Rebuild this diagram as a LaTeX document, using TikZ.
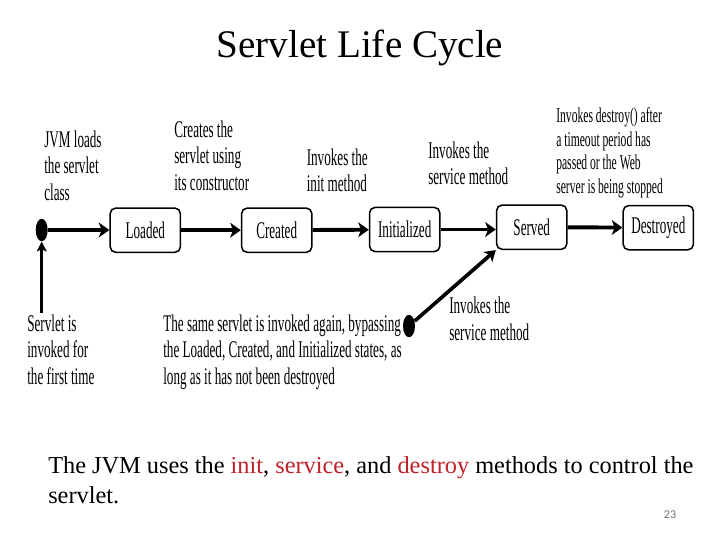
\documentclass[tikz,border=0pt]{standalone}
\usepackage{fontspec}
\setmainfont{Liberation Serif}
\newfontfamily\slimfont[FakeStretch=0.55]{Liberation Serif}
\newfontfamily\pagefont{Carlito}
\usetikzlibrary{arrows.meta,shapes.geometric}
\definecolor{methodred}{RGB}{192,32,40}
\tikzset{
  state/.style={draw, line width=1.1pt, rounded corners=4pt, minimum width=50pt,
    minimum height=31.5pt, inner sep=0pt, font={\slimfont\fontsize{17}{18.8}\selectfont}},
  note/.style={anchor=north west, align=left, inner sep=0pt,
    font={\slimfont\fontsize{17}{18.8}\selectfont}},
  smallnote/.style={note, font={\slimfont\fontsize{15}{17}\selectfont}},
  blob/.style={ellipse, fill=black, draw=none, minimum width=8.5pt, minimum height=16pt, inner sep=0pt},
  flow/.style={line width=2.8pt, -{Stealth[length=7.5pt,width=10.5pt,inset=2pt]}},
}
\begin{document}
\begin{tikzpicture}[x=0.025cm, y=-0.025cm]
\useasboundingbox (0,0) rectangle (720,540);

\node[anchor=base, font=\fontsize{27.8}{33}\selectfont] (title) at (360,57) {Servlet Life Cycle};

\node[state] (loaded) at (145.3,230.2) {Loaded};
\node[state] (created) at (276.7,230.2) {Created};
\node[state] (initialized) at (404.7,229.5) {Initialized};
\node[state] (served) at (531.7,227.2) {Served};
\node[state] (destroyed) at (658.3,227.7) {Destroyed};

\node[blob] (start) at (41.7,230) {};
\node[blob] (again) at (409,326) {};
\coordinate (firstcall) at (41.7,313);

\draw[flow] (start) -- (start -| loaded.west);
\draw[flow] (loaded) -- (created);
\draw[flow] (created) -- (initialized);
\draw[flow] (initialized.east) -- (initialized.east -| served.west);
\draw[flow] (served) -- (destroyed);
\draw[line width=1.8pt, -{Stealth[length=7pt,width=7pt,inset=1.5pt]}] (firstcall) -- (start.south);
\draw[line width=2.6pt, -{Stealth[length=7.5pt,width=9.5pt,inset=2pt]}] (again) -- (served.south west);

\node[note] (jvmloads) at (44,130.5) {JVM loads\\the servlet\\class};
\node[note] (creates) at (174,120.5) {Creates the\\servlet using\\its constructor};
\node[note] (invokesinit) at (306.5,148.5) {Invokes the\\init method};
\node[note] (invokesservice) at (428,141.5) {Invokes the\\service method};
\node[smallnote] (invokesdestroy) at (556,107) {Invokes destroy() after\\a timeout period has\\passed or the Web\\server is being stopped};
\node[note] (firsttime) at (27,314.5) {Servlet is\\invoked for\\the first time};
\node[note] (bypass) at (163,314.5) {The same servlet is invoked again, bypassing\\the Loaded, Created, and Initialized states, as\\long as it has not been destroyed};
\node[note] (serviceagain) at (449,297) {Invokes the\\service method};

\node[anchor=north west, align=left, inner sep=0pt, font=\fontsize{17.3}{21.3}\selectfont] (summary) at (48,456)
  {The JVM uses the \textcolor{methodred}{init}, \textcolor{methodred}{service}, and \textcolor{methodred}{destroy} methods to control the\\servlet.};
\node[font={\pagefont\fontsize{8.5}{10}\selectfont}, text=black!55] (pagenum) at (670,515) {23};
\end{tikzpicture}
\end{document}
